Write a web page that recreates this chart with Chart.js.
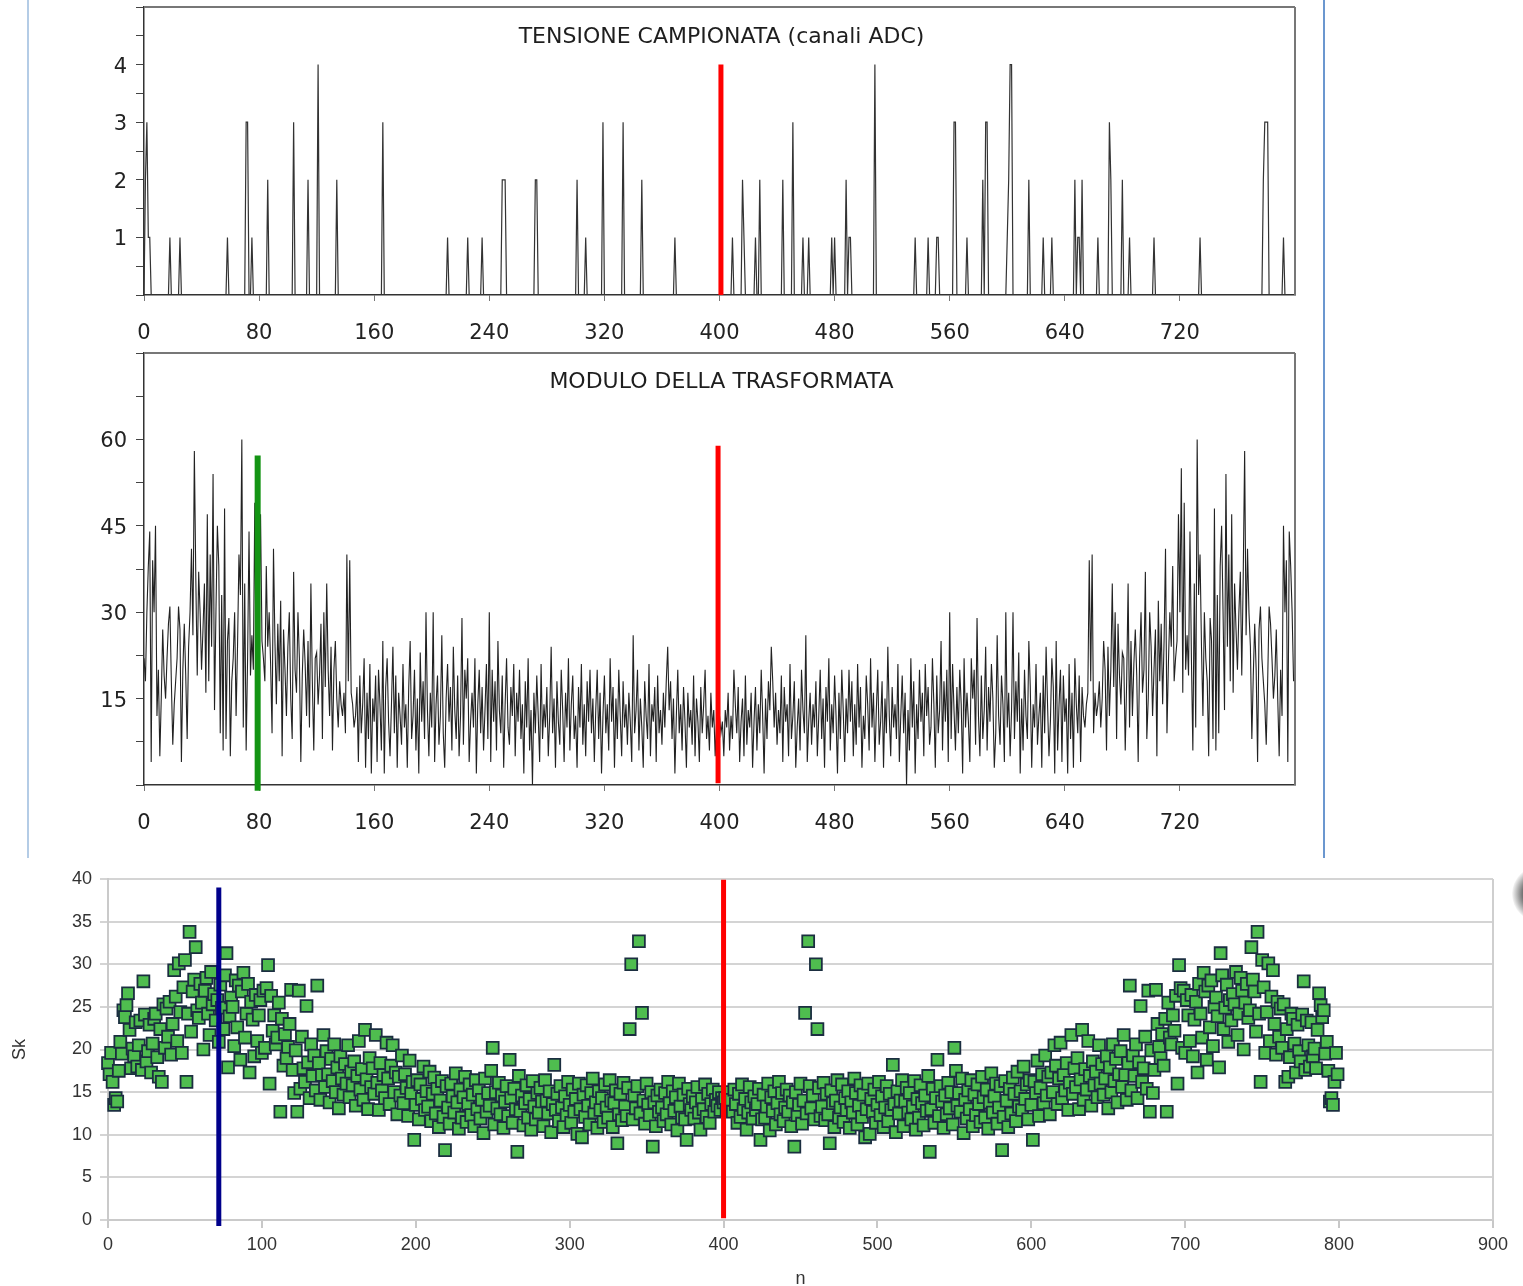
<!DOCTYPE html>
<html>
<head>
<meta charset="utf-8">
<script src="https://cdn.jsdelivr.net/npm/chart.js@4.4.1/dist/chart.umd.min.js"></script>
<style>
  body { margin: 0; background: #fff; width: 1523px; height: 1286px; overflow: hidden; position: relative; }
  .box { position: absolute; }
  .bordo { position: absolute; top: 0; height: 858px; width: 2px; }
  .ombra { position: absolute; left: 1512px; top: 866px; width: 56px; height: 56px; border-radius: 50%;
           background: radial-gradient(circle, #444 0%, #777 45%, rgba(255,255,255,0) 72%); }
</style>
</head>
<body>
<div class="bordo" style="left:27px;background:#b4cce6"></div>
<div class="bordo" style="left:1323px;background:#6b97cf"></div>
<div class="ombra"></div>
<div class="box" style="left:44px;top:0"><canvas id="tensione" width="1300" height="350"></canvas></div>
<div class="box" style="left:44px;top:345px"><canvas id="modulo" width="1300" height="500"></canvas></div>
<div class="box" style="left:0;top:858px"><canvas id="sk" width="1523" height="428"></canvas></div>
<script>
// tensione campionata: solo i campioni diversi da zero (indice, canali ADC)
const adcN = [1,2,3,4, 18,25,58, 71,72,75, 86,104,114,121,134,166, 211,225,235, 249,250,251, 272,273,
  301,307,319,333,346,369, 409,416,417,425,428, 444,451,458,462, 478,480, 488,490,491, 508,536,545,551,552,
  563,564,572, 583,585,586, 600,601,602,603, 615,625,631, 647,649,650,652, 663,671,672, 680,685,702,734,
  778,779,780,781, 792];
const adcV = [2,3,1,1, 1,1,1, 3,3,1, 2,3,2,4,2,3, 1,1,1, 2,2,2, 2,2,
  2,1,3,3,2,1, 1,2,1,1,2, 2,3,1,1, 1,1, 2,1,1, 4,1,1,1,1,
  3,3,1, 2,3,3, 1,2,4,4, 2,1,1, 2,1,1,2, 1,3,2, 2,1,1,1,
  2,3,3,3, 1];
const numCampioni = 800;

// modulo della trasformata, k = 0..799
const modulo = [
  22,18,30,38,44,4,39,30,45,12,20,5,15,27,19,15,22,28,31,18,
  7,14,18,22,31,27,4,20,28,19,8,24,30,41,26,58,36,19,37,30,
  20,27,35,16,47,18,40,24,54,13,30,45,38,9,33,6,48,8,25,29,
  5,18,22,30,12,24,40,33,60,10,35,6,22,44,19,26,20,49,16,55,
  30,47,25,22,18,38,24,30,21,9,41,25,14,28,18,32,5,27,20,12,
  24,30,15,8,37,20,16,30,22,4,19,27,21,12,25,10,35,18,6,22,
  23,14,19,28,8,30,17,35,20,12,24,6,20,25,15,10,18,14,12,16,
  9,40,18,39,16,14,10,12,17,4,19,9,14,22,3,16,8,21,2,15,
  11,19,4,20,14,6,25,2,17,22,11,5,14,24,9,19,3,16,12,7,
  21,10,14,3,17,25,8,12,20,6,15,2,23,11,18,8,30,13,5,16,
  10,30,4,14,19,7,12,26,9,3,15,21,11,17,6,24,13,8,19,5,
  12,29,7,20,15,22,4,11,16,10,22,2,14,20,9,17,6,13,21,8,
  30,4,20,11,18,6,25,13,9,19,3,14,22,10,7,17,12,21,5,16,
  11,20,8,14,2,18,10,22,6,13,0,16,9,19,12,4,21,8,14,10,
  17,5,12,24,9,15,3,18,11,7,20,13,4,16,10,22,6,14,19,8,
  12,3,17,10,21,7,14,5,18,11,20,9,15,4,13,20,8,16,2,12,
  19,9,14,6,22,11,17,3,15,8,20,12,5,18,10,14,7,16,11,4,
  26,9,13,20,6,15,10,3,18,12,8,21,5,14,11,17,4,19,9,13,
  7,16,10,18,24,13,18,8,15,2,12,20,9,14,6,17,11,3,16,10,
  13,7,19,5,15,11,4,17,9,14,20,8,12,6,16,10,13,5,11,9,
  12,
  9,11,5,13,10,16,6,12,8,20,14,9,17,4,11,15,5,19,7,13,
  10,16,3,11,17,6,14,9,20,12,2,15,8,18,13,24,18,10,16,7,
  13,9,19,4,17,11,14,5,21,8,12,18,3,10,15,6,20,13,9,26,
  4,11,16,7,14,10,18,5,12,20,8,15,3,17,11,22,6,14,9,19,
  12,2,16,8,20,13,4,15,9,20,11,18,5,14,7,21,10,17,3,12,
  8,19,14,6,22,10,16,4,13,20,7,11,18,3,15,9,24,12,5,17,
  10,14,8,21,4,12,19,9,16,0,13,6,22,10,18,2,14,8,20,11,
  16,5,21,12,17,7,10,22,14,3,19,9,13,25,6,18,11,20,4,30,
  8,21,13,6,17,9,20,14,2,22,10,16,11,4,22,15,20,7,29,12,
  5,19,8,13,24,6,17,11,21,15,3,9,26,12,7,19,14,4,30,10,
  16,5,13,30,8,18,11,23,2,15,6,20,12,8,25,17,3,14,10,21,
  7,12,16,3,19,9,24,14,5,11,22,17,2,25,6,14,20,4,19,11,
  15,2,21,8,16,3,22,14,9,19,4,17,12,10,14,16,39,18,40,9,
  16,12,14,18,10,15,25,20,6,24,12,20,35,17,30,8,28,19,14,23,
  22,6,18,35,10,25,12,21,27,19,4,22,30,16,20,37,8,15,30,24,
  12,20,27,5,32,18,28,14,25,41,9,21,30,24,38,18,22,25,47,30,
  55,16,49,20,26,19,44,22,6,35,10,60,33,40,24,12,30,22,18,5,
  29,25,8,48,6,33,9,38,45,30,13,54,24,40,18,47,16,35,27,20,
  30,37,19,36,58,26,41,30,24,8,19,28,20,4,27,31,22,18,14,7,
  18,31,28,22,15,19,27,15,5,20,12,45,30,39,4,44,38,30,18
];

// Sk in funzione di n = 0..799
const sk = [
  18.4,17.1,19.6,16.2,13.5,14.3,13.9,17.5,20.9,19.5,24.6,23.8,25.2,26.6,22.3,17.8,20.1,19.2,23.2,18.0,
  20.5,23.4,17.6,28.0,24.1,18.6,19.8,22.9,17.3,20.7,23.6,24.2,19.1,16.8,22.4,16.2,25.3,20.2,24.8,21.5,
  25.6,19.4,23.0,29.3,26.2,21.0,30.1,24.4,19.6,27.3,30.5,16.2,24.2,33.8,22.1,26.8,28.2,32.0,24.6,23.7,
  27.7,25.5,20.0,26.9,28.4,24.2,21.7,29.1,25.3,26.5,23.4,25.8,20.9,27.6,24.9,22.4,28.7,31.3,17.9,23.9,
  26.1,25.0,20.4,28.1,22.6,27.5,18.8,26.8,29.0,21.4,24.2,27.7,17.3,25.6,23.5,19.2,26.4,21.0,24.0,25.8,
  19.6,26.9,20.2,27.2,29.9,16.0,26.3,22.2,24.0,20.6,21.4,25.5,12.7,23.6,18.1,21.8,19.0,20.3,23.0,27.0,
  17.6,14.9,19.9,12.7,26.9,15.4,21.5,17.8,16.2,25.1,18.5,14.3,20.6,16.9,19.3,15.2,27.5,18.4,14.1,17.0,
  21.7,15.6,19.8,17.1,13.8,18.9,16.3,20.6,15.0,17.9,13.1,19.2,16.6,14.7,18.3,16.0,20.5,14.4,17.4,15.8,
  18.6,13.4,16.9,21.0,15.3,17.7,14.1,22.3,16.5,13.0,19.0,15.6,17.8,14.8,21.7,16.1,12.9,18.4,15.2,17.0,
  14.3,20.8,16.6,13.6,18.1,20.5,15.0,17.3,12.4,16.8,14.6,19.3,13.7,17.1,15.5,12.2,18.7,14.9,16.2,9.4,
  13.5,16.4,11.8,15.9,14.2,18.0,12.9,15.1,13.3,17.4,11.6,14.8,16.7,12.5,15.4,10.9,14.0,16.3,12.1,8.2,
  15.7,13.2,11.3,16.0,14.5,12.6,17.2,13.8,10.7,15.3,12.0,14.4,16.8,11.5,13.6,15.9,12.3,14.7,11.0,16.4,
  13.0,15.2,11.9,14.1,10.2,16.6,12.7,14.9,13.4,17.5,20.2,11.2,15.0,13.1,16.1,12.4,14.6,10.8,13.9,15.7,
  12.2,18.8,14.3,11.4,15.4,13.0,8.0,16.9,12.8,14.6,11.1,13.7,15.8,12.0,14.2,10.6,16.3,13.3,11.8,14.9,
  12.6,15.5,13.9,11.0,16.4,14.0,12.5,15.1,10.3,13.6,18.2,12.9,14.8,11.6,15.7,13.2,10.9,14.5,12.3,16.2,
  13.5,11.4,15.3,12.7,14.2,10.1,16.0,13.0,9.7,14.7,12.1,15.8,13.4,11.2,14.9,16.6,12.6,13.8,10.8,15.1,
  12.9,14.3,11.5,15.9,13.2,12.0,16.4,14.0,10.9,13.7,15.2,9.0,12.4,14.8,11.7,16.1,13.3,12.2,15.5,22.4,
  30.0,11.8,14.6,13.1,15.7,32.7,12.5,24.3,14.0,11.3,16.0,13.5,12.3,15.0,8.6,13.8,11.0,14.6,12.7,15.3,
  13.2,11.6,14.9,12.4,16.2,13.7,11.2,15.1,12.8,14.4,10.5,16.0,13.3,12.0,14.7,11.8,9.4,15.4,13.6,12.9,
  14.5,11.9,13.8,15.6,12.6,10.6,14.2,13.0,15.9,12.1,14.8,11.4,13.6,15.3,12.7,14.1,13.4,15.0,12.9,14.3,
  13.8,
  14.3,12.9,15.0,13.4,14.1,12.7,15.3,13.6,11.4,14.8,12.1,15.9,13.0,14.2,10.6,12.6,15.6,13.8,11.9,14.5,
  12.9,13.6,15.4,9.4,11.8,14.7,12.0,13.3,16.0,10.5,14.4,12.8,15.1,11.2,13.7,16.2,12.4,14.9,11.6,13.2,
  15.3,12.7,14.6,11.0,13.8,8.6,15.0,12.3,13.5,16.0,11.3,14.0,24.3,12.5,32.7,15.7,13.1,14.6,11.8,30.0,
  22.4,15.5,12.2,13.3,16.1,11.7,14.8,12.4,9.0,15.2,13.7,10.9,14.0,16.4,12.0,13.2,15.9,11.5,14.3,12.9,
  15.1,10.8,13.8,12.6,16.6,14.9,11.2,13.4,15.8,12.1,14.7,9.7,13.0,16.0,10.1,14.2,12.7,15.3,11.4,13.5,
  16.2,12.3,14.5,10.9,13.2,15.7,11.6,14.8,12.9,18.2,13.6,10.3,15.1,12.5,14.0,16.4,11.0,13.9,15.5,12.6,
  14.9,11.8,13.3,16.3,10.6,14.2,12.0,15.8,13.7,11.1,14.6,12.8,16.9,8.0,13.0,15.4,11.4,14.3,18.8,12.2,
  15.7,13.9,10.8,14.6,12.4,16.1,13.1,15.0,11.2,20.2,17.5,13.4,14.9,12.7,16.6,10.2,14.1,11.9,15.2,13.0,
  16.4,11.0,14.7,12.3,15.9,13.6,11.5,16.8,14.4,12.0,15.3,10.7,13.8,17.2,12.6,14.5,16.0,11.3,13.2,15.7,
  8.2,12.1,16.3,14.0,10.9,15.4,12.5,16.7,14.8,11.6,17.4,13.3,15.1,12.9,18.0,14.2,15.9,11.8,16.4,13.5,
  9.4,16.2,14.9,18.7,12.2,15.5,17.1,13.7,19.3,14.6,16.8,12.4,17.3,15.0,20.5,18.1,13.6,16.6,20.8,14.3,
  17.0,15.2,18.4,12.9,16.1,21.7,14.8,17.8,15.6,19.0,13.0,16.5,22.3,14.1,17.7,15.3,21.0,16.9,13.4,18.6,
  15.8,17.4,14.4,20.5,16.0,18.3,14.7,16.6,19.2,13.1,17.9,15.0,20.6,16.3,18.9,13.8,17.1,19.8,15.6,21.7,
  17.0,14.1,18.4,27.5,15.2,19.3,16.9,20.6,14.3,18.5,25.1,16.2,17.8,21.5,15.4,26.9,12.7,19.9,14.9,17.6,
  27.0,23.0,20.3,19.0,21.8,18.1,23.6,12.7,25.5,21.4,20.6,24.0,22.2,26.3,16.0,29.9,27.2,20.2,26.9,19.6,
  25.8,24.0,21.0,26.4,19.2,23.5,25.6,17.3,27.7,24.2,21.4,29.0,26.8,18.8,27.5,22.6,28.1,20.4,25.0,26.1,
  23.9,17.9,31.3,28.7,22.4,24.9,27.6,20.9,25.8,23.4,26.5,25.3,29.1,21.7,24.2,28.4,26.9,20.0,25.5,27.7,
  23.7,24.6,32.0,28.2,26.8,22.1,33.8,24.2,16.2,30.5,27.3,19.6,24.4,30.1,21.0,26.2,29.3,23.0,19.4,25.6,
  21.5,24.8,20.2,25.3,16.2,22.4,16.8,19.1,24.2,23.6,20.7,17.3,22.9,19.8,18.6,24.1,28.0,17.6,23.4,20.5,
  18.0,23.2,19.2,20.1,17.8,22.3,26.6,25.2,23.8,24.6,19.5,20.9,17.5,13.9,14.3,13.5,16.2,19.6,17.1
];

// etichette degli assi
const tickCampioni = [0, 80, 160, 240, 320, 400, 480, 560, 640, 720];
const tickTensione = [1, 2, 3, 4];
const tickModulo = [15, 30, 45, 60];

// cursori verticali: posizione e estremi
const cursoreTensione = { n: 401, da: 0, a: 4 };
const cursoreModulo = { n: 399, da: 0.3, a: 58.9 };
const cursoreVerde = { n: 79, da: -1, a: 57.2 };
const cursoreBlu = { n: 72, da: -0.7, a: 39 };
const cursoreSk = { n: 400, da: 0.2, a: 39.9 };

// cornice grigia e titolo dentro l'area del grafico
const cornice = {
  id: 'cornice',
  beforeDatasetsDraw(chart, args, o) {
    const a = chart.chartArea, ctx = chart.ctx;
    ctx.save();
    ctx.strokeStyle = o.colore;
    ctx.lineWidth = o.spessore;
    ctx.beginPath();
    if (o.sopra) { ctx.moveTo(a.left, a.top); ctx.lineTo(a.right, a.top); }
    if (o.destra) { ctx.moveTo(a.right, a.top); ctx.lineTo(a.right, a.bottom); }
    ctx.stroke();
    ctx.restore();
  },
  afterDraw(chart, args, o) {
    if (!o.titolo) return;
    const a = chart.chartArea, ctx = chart.ctx;
    ctx.save();
    ctx.font = '22px "DejaVu Sans"';
    ctx.fillStyle = '#1e1e1e';
    ctx.textAlign = 'center';
    ctx.textBaseline = 'middle';
    ctx.fillText(o.titolo, (a.left + a.right) / 2 + 2, a.top + o.titoloY);
    ctx.restore();
  }
};

function cursore(c, colore, spessore) {
  return {
    data: [{ x: c.n, y: c.da }, { x: c.n, y: c.a }],
    borderColor: colore, borderWidth: spessore, pointRadius: 0,
    showLine: true, clip: false, order: 0
  };
}

// niente spazio extra per mezza etichetta agli estremi degli assi
function senzaMargini(s) {
  s.paddingTop = 0; s.paddingBottom = 0; s.paddingLeft = 0; s.paddingRight = 0;
}

const fontAssi = { family: 'DejaVu Sans', size: 21 };

function assiPannello(ymax, passo, etichette, altezzaX) {
  return {
    x: {
      type: 'linear', min: 0, max: 800,
      afterBuildTicks(s) { s.ticks = tickCampioni.map(v => ({ value: v })); },
      afterFit(s) { s.height = altezzaX; senzaMargini(s); },
      border: { color: '#333', width: 1.5 },
      grid: { drawOnChartArea: false, tickLength: 6, color: '#777' },
      ticks: { padding: 20, color: '#222', font: fontAssi, maxRotation: 0, autoSkip: false }
    },
    y: {
      min: 0, max: ymax,
      afterFit(s) { s.width = 100; senzaMargini(s); },
      border: { color: '#333', width: 1.5 },
      grid: { drawOnChartArea: false, tickLength: 8, color: '#444' },
      ticks: {
        stepSize: passo, autoSkip: false, padding: 9, labelOffset: 2.5, color: '#222', font: fontAssi,
        callback: v => etichette.includes(v) ? String(v) : ''
      }
    }
  };
}

// campioni della tensione (zero dove non c'e' impulso)
const tensione = [];
for (let i = 0; i < numCampioni; i++) tensione.push({ x: i, y: 0 });
adcN.forEach((n, j) => { tensione[n].y = adcV[j]; });

new Chart(document.getElementById('tensione'), {
  type: 'line',
  data: {
    datasets: [
      cursore(cursoreTensione, '#ff0000', 5),
      { data: tensione, borderColor: '#333', borderWidth: 1.2, pointRadius: 0, tension: 0, order: 1 }
    ]
  },
  options: {
    responsive: false, animation: false,
    layout: { padding: { top: 7, right: 49, left: 0, bottom: 0 } },
    plugins: {
      legend: { display: false }, tooltip: { enabled: false },
      cornice: { sopra: true, destra: true, colore: '#777', spessore: 2,
                 titolo: 'TENSIONE CAMPIONATA (canali ADC)', titoloY: 30.5 }
    },
    scales: assiPannello(5, 0.5, tickTensione, 55)
  },
  plugins: [cornice]
});

new Chart(document.getElementById('modulo'), {
  type: 'line',
  data: {
    datasets: [
      cursore(cursoreVerde, '#139413', 6),
      cursore(cursoreModulo, '#ff0000', 5),
      { data: modulo.map((v, k) => ({ x: k, y: v })), borderColor: '#222', borderWidth: 1.1,
        pointRadius: 0, tension: 0, order: 1 }
    ]
  },
  options: {
    responsive: false, animation: false,
    layout: { padding: { top: 8, right: 49, left: 0, bottom: 0 } },
    plugins: {
      legend: { display: false }, tooltip: { enabled: false },
      cornice: { sopra: true, destra: true, colore: '#777', spessore: 2,
                 titolo: 'MODULO DELLA TRASFORMATA', titoloY: 29.5 }
    },
    scales: assiPannello(75, 7.5, tickModulo, 60)
  },
  plugins: [cornice]
});

const fontSk = { family: 'Liberation Sans', size: 18 };

new Chart(document.getElementById('sk'), {
  type: 'scatter',
  data: {
    datasets: [
      cursore(cursoreBlu, '#00008b', 5),
      cursore(cursoreSk, '#ff0000', 5),
      { data: sk.map((v, n) => ({ x: n, y: v })), pointStyle: 'rect', pointRadius: 8.4,
        backgroundColor: '#4fbd4f', borderColor: '#1b2e40', borderWidth: 1.8, clip: false, order: 1 }
    ]
  },
  options: {
    responsive: false, animation: false,
    layout: { padding: { top: 21, right: 30, left: 0, bottom: 0 } },
    plugins: {
      legend: { display: false }, tooltip: { enabled: false },
      cornice: { destra: true, colore: '#cfcfcf', spessore: 2 }
    },
    scales: {
      x: {
        min: 0, max: 900,
        afterFit(s) { s.height = 66; },
        title: { display: true, text: 'n', color: '#333', font: fontSk, padding: { top: 0, bottom: -4 } },
        border: { color: '#cacaca', width: 2 },
        grid: { drawOnChartArea: false, tickLength: 8, color: '#c8c8c8', lineWidth: 2 },
        ticks: { stepSize: 100, padding: 6, color: '#333', font: fontSk, maxRotation: 0 }
      },
      y: {
        min: 0, max: 40,
        afterFit(s) { s.width = 108; },
        title: { display: true, text: 'Sk', color: '#333', font: fontSk, padding: { top: 9, bottom: 0 } },
        border: { color: '#cacaca', width: 2 },
        grid: { color: '#d4d4d4', lineWidth: 2, tickLength: 8 },
        ticks: { stepSize: 5, padding: 8, color: '#333', font: fontSk }
      }
    }
  },
  plugins: [cornice]
});
</script>
</body>
</html>
